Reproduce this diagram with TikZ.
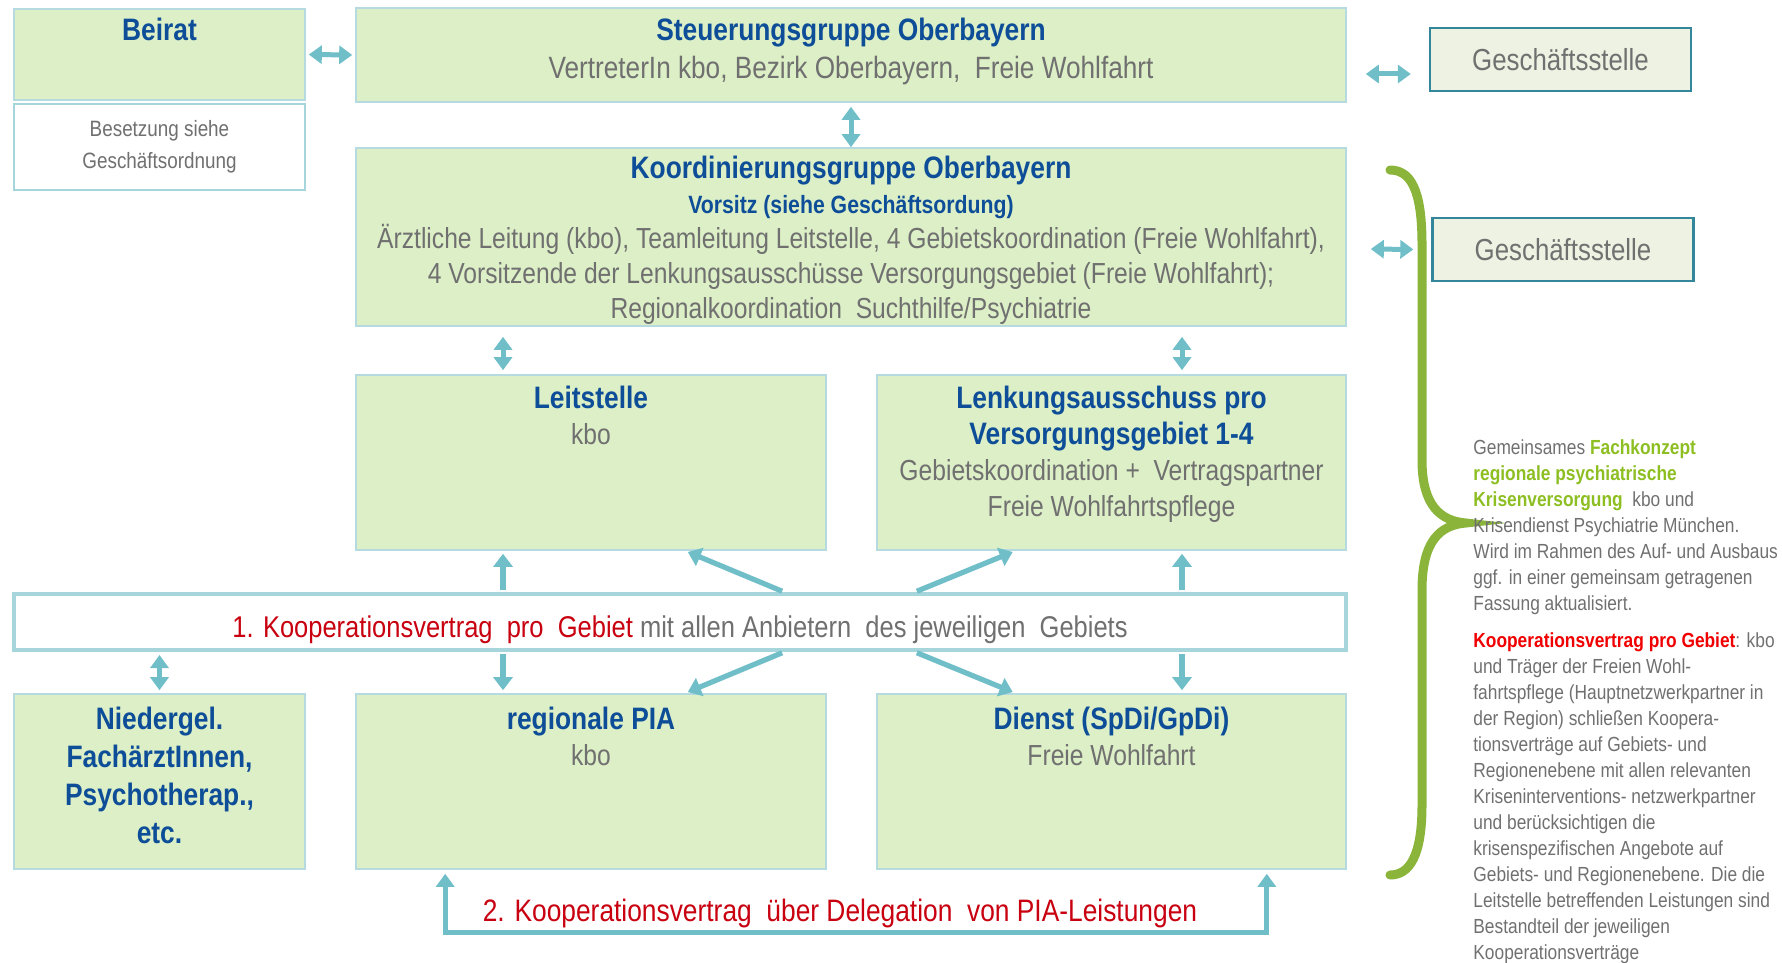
\documentclass[tikz,border=0pt]{standalone}
\usepackage{fontspec}
\setmainfont{Liberation Sans}[FakeStretch=0.85]
\usetikzlibrary{arrows.meta, positioning, calc}

\definecolor{boxgreen}{HTML}{DCEFC6}
\definecolor{boxedge}{HTML}{B5DADF}
\definecolor{baredge}{HTML}{A6D6DC}
\definecolor{arrowteal}{HTML}{6FBEC8}
\definecolor{titleblue}{HTML}{0E4E98}
\definecolor{textgray}{HTML}{707070}
\definecolor{koopred}{HTML}{C8000F}
\definecolor{brightred}{HTML}{F00000}
\definecolor{fachgreen}{HTML}{8DBE22}
\definecolor{bracegreen}{HTML}{8AB43A}
\definecolor{gsfill}{HTML}{EDF2E2}
\definecolor{gsedge}{HTML}{34879A}

\newcommand{\boxtitle}[1]{{\fontsize{15.5}{19}\selectfont\bfseries\color{titleblue}#1}}

\begin{document}
\begin{tikzpicture}[x=0.5pt, y=-0.5pt,
    greenbox/.style={rectangle, draw=boxedge, line width=0.8pt, fill=boxgreen, inner sep=0pt},
    whitebox/.style={rectangle, draw=baredge, line width=1.4pt, fill=white, inner sep=0pt},
    gsbox/.style={rectangle, draw=gsedge, line width=1.2pt, fill=gsfill, inner sep=0pt,
        minimum width=130.5pt, minimum height=31.5pt, font=\fontsize{15.2}{18}\selectfont, text=textgray},
    boxtext/.style={anchor=north, align=center, inner sep=0pt, font=\fontsize{14.5}{18}\selectfont, text=textgray},
    arr/.style={draw=arrowteal, line width=2.6pt, -{Triangle[width=9.5pt,length=6.5pt]},
        shorten >=1.5pt, shorten <=1pt},
    dblarr/.style={draw=arrowteal, line width=2.5pt,
        {Triangle[width=9pt,length=6.5pt]}-{Triangle[width=9pt,length=6.5pt]},
        shorten >=1.5pt, shorten <=1.5pt}]
    \useasboundingbox (0,0) rectangle (1782,963);

    \node[greenbox, minimum width=145.5pt, minimum height=45.5pt] (Beirat) at (159.5,54.5) {};
    \node[boxtext] (BeiratText) at ([yshift=-4.7pt]Beirat.north) {\boxtitle{Beirat}};
    \node[whitebox, minimum width=145.5pt, minimum height=43pt, align=center,
        font=\fontsize{11.1}{16}\selectfont, text=textgray] (Besetzung) at (159.5,147) {Besetzung siehe\\Geschäftsordnung};

    \node[greenbox, minimum width=495pt, minimum height=47pt] (Steuerung) at (851,55) {};
    \node[boxtext, font=\fontsize{15.4}{19}\selectfont] (SteuerungText) at ([yshift=-5.2pt]Steuerung.north)
        {\boxtitle{Steuerungsgruppe Oberbayern}\\VertreterIn kbo, Bezirk Oberbayern,\ \ Freie Wohlfahrt};
    \node[gsbox] (GSoben) at (1560.5,59.5) {Geschäftsstelle};

    \node[greenbox, minimum width=495pt, minimum height=89pt] (Koordinierung) at (851,237) {};
    \node[boxtext, font=\fontsize{14.5}{17.5}\selectfont] (KoordText) at ([yshift=-4.2pt]Koordinierung.north)
        {\boxtitle{Koordinierungsgruppe Oberbayern}\\
        {\fontsize{12.5}{15}\selectfont\bfseries\color{titleblue}Vorsitz (siehe Geschäftsordung)}\\
        Ärztliche Leitung (kbo), Teamleitung Leitstelle, 4 Gebietskoordination (Freie Wohlfahrt),\\
        4 Vorsitzende der Lenkungsausschüsse Versorgungsgebiet (Freie Wohlfahrt);\\
        Regionalkoordination\ \ Suchthilfe/Psychiatrie};
    \node[gsbox] (GSunten) at (1563,249.5) {Geschäftsstelle};

    \node[greenbox, minimum width=235pt, minimum height=87.5pt] (Leitstelle) at (591,462.5) {};
    \node[boxtext] (LeitText) at ([yshift=-5.7pt]Leitstelle.north) {\boxtitle{Leitstelle}\\kbo};
    \node[greenbox, minimum width=234.5pt, minimum height=87.5pt] (Lenkung) at (1111.5,462.5) {};
    \node[boxtext] (LenkText) at ([yshift=-5.7pt]Lenkung.north)
        {\boxtitle{Lenkungsausschuss pro}\\\boxtitle{Versorgungsgebiet 1-4}\\
        Gebietskoordination +\ \ Vertragspartner\\Freie Wohlfahrtspflege};

    \node[whitebox, line width=2pt, minimum width=666pt, minimum height=28pt,
        font=\fontsize{15}{18}\selectfont, text=textgray] (Kooperation) at (680,622)
        {\raisebox{-7.9pt}[0pt][0pt]{\textcolor{koopred}{1. Kooperationsvertrag\ \ pro\ \ Gebiet} mit allen Anbietern\ \ des jeweiligen\ \ Gebiets}};

    \node[greenbox, minimum width=145.5pt, minimum height=87.5pt] (Niedergel) at (159.5,781.5) {};
    \node[boxtext, font=\fontsize{15.5}{19}\selectfont\bfseries, text=titleblue] (NiedergelText)
        at ([yshift=-6.7pt]Niedergel.north) {Niedergel.\\FachärztInnen,\\Psychotherap.,\\etc.};
    \node[greenbox, minimum width=235pt, minimum height=87.5pt] (PIA) at (591,781.5) {};
    \node[boxtext] (PIAText) at ([yshift=-6.7pt]PIA.north) {\boxtitle{regionale PIA}\\kbo};
    \node[greenbox, minimum width=234.5pt, minimum height=87.5pt] (Dienst) at (1111.5,781.5) {};
    \node[boxtext] (DienstText) at ([yshift=-6.7pt]Dienst.north) {\boxtitle{Dienst (SpDi/GpDi)}\\Freie Wohlfahrt};

    \coordinate (leftcol) at ([xshift=-44pt]Leitstelle.south);
    \coordinate (rightcol) at ([xshift=35.25pt]Lenkung.south);

    \draw[dblarr] (Beirat.east) -- (Steuerung.west);
    \draw[dblarr] ([shift={(16,19)}]Steuerung.east) -- ([shift={(-15,14.5)}]GSoben.west);
    \draw[dblarr, shorten <=2pt, shorten >=0pt] (Steuerung.south) -- (Koordinierung.north);
    \draw[dblarr] ([shift={(21,12)}]Koordinierung.east) -- ([xshift=-7.5pt]GSunten.west);
    \draw[dblarr, shorten <=5pt, shorten >=2pt] (leftcol |- Koordinierung.south) -- (leftcol |- Leitstelle.north);
    \draw[dblarr, shorten <=5pt, shorten >=2pt] (rightcol |- Koordinierung.south) -- (rightcol |- Lenkung.north);

    \draw[arr] (leftcol |- Kooperation.north) -- (leftcol |- Leitstelle.south);
    \draw[arr] ([xshift=52pt]Kooperation.north) -- ([xshift=47pt]Leitstelle.south);
    \draw[arr] ([xshift=117.5pt]Kooperation.north) -- ([xshift=-48pt]Lenkung.south);
    \draw[arr] (rightcol |- Kooperation.north) -- (rightcol |- Lenkung.south);
    \draw[arr] (leftcol |- Kooperation.south) -- (leftcol |- PIA.north);
    \draw[arr] ([xshift=52pt]Kooperation.south) -- ([xshift=47pt]PIA.north);
    \draw[arr] ([xshift=117.5pt]Kooperation.south) -- ([xshift=-48pt]Dienst.north);
    \draw[arr] (rightcol |- Kooperation.south) -- (rightcol |- Dienst.north);
    \draw[dblarr] (Niedergel.north |- Kooperation.south) -- (Niedergel.north);

    \draw[dblarr, shorten <=2pt, shorten >=2pt] ([xshift=45pt]PIA.south west) -- ++(0,63)
        -| node[pos=0.25, above, xshift=-8pt, inner sep=1pt, font=\fontsize{15.5}{18}\selectfont, text=koopred] (Delegation)
        {2. Kooperationsvertrag\ \ über Delegation\ \ von PIA-Leistungen} ([xshift=-40pt]Dienst.south east);

    \draw[bracegreen, line width=4.5pt, line cap=round]
        (1390,170) .. controls (1415,170) and (1422,200) .. (1422,245) -- (1422,460)
        .. controls (1422,505) and (1440,521) .. (1466,523)
        .. controls (1440,525) and (1422,541) .. (1422,590) -- (1422,805)
        .. controls (1422,855) and (1410,875) .. (1390,875);

    \node[anchor=north west, align=left, inner sep=0pt, font=\fontsize{10.2}{13}\selectfont, text=textgray]
        (Fachkonzept) at (1473,439)
        {Gemeinsames {\bfseries\color{fachgreen}Fachkonzept}\\
        {\bfseries\color{fachgreen}regionale psychiatrische}\\
        {\bfseries\color{fachgreen}Krisenversorgung}\ \ kbo und\\
        Krisendienst Psychiatrie München.\\
        Wird im Rahmen des Auf- und Ausbaus\\
        ggf. in einer gemeinsam getragenen\\
        Fassung aktualisiert.};
    \node[anchor=north west, align=left, inner sep=0pt, font=\fontsize{10.2}{13}\selectfont, text=textgray]
        (KoopText) at (1473,632)
        {{\bfseries\color{brightred}Kooperationsvertrag pro Gebiet}: kbo\\
        und Träger der Freien Wohl-\\
        fahrtspflege (Hauptnetzwerkpartner in\\
        der Region) schließen Koopera-\\
        tionsverträge auf Gebiets- und\\
        Regionenebene mit allen relevanten\\
        Kriseninterventions- netzwerkpartner\\
        und berücksichtigen die\\
        krisenspezifischen Angebote auf\\
        Gebiets- und Regionenebene. Die die\\
        Leitstelle betreffenden Leistungen sind\\
        Bestandteil der jeweiligen\\
        Kooperationsverträge};
\end{tikzpicture}
\end{document}
